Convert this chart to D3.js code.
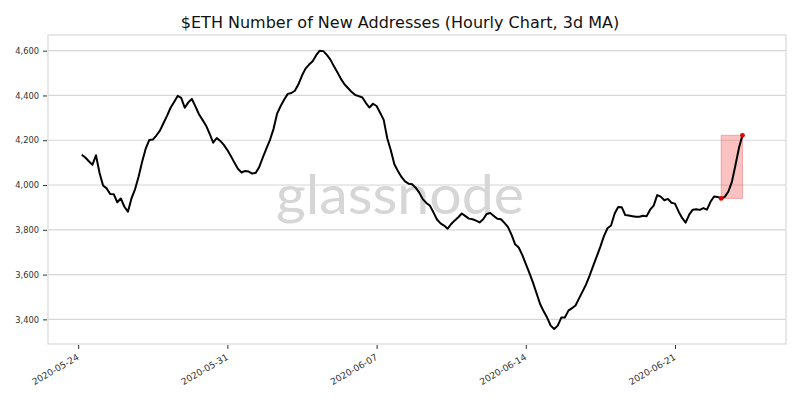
<!DOCTYPE html>
<html>
<head>
<meta charset="utf-8">
<script src="https://cdn.jsdelivr.net/npm/d3@7/dist/d3.min.js"></script>
<style>
  html, body { margin: 0; padding: 0; background: #fff; }
  svg { display: block; }
</style>
</head>
<body>
<svg id="chart" width="800" height="400"></svg>
<script>
// ---- data ----
const title = "$ETH Number of New Addresses (Hourly Chart, 3d MA)";
const seriesStart = "2020-05-24T04:00:00Z"; // first sample
const seriesStepHours = 4;                   // sampling interval of values below
const highlightFrom = "2020-06-23T04:00:00Z";
const values = [
  4135,4123,4106,4090,4133,4055,3998,3985,3960,3959,
  3923,3940,3903,3881,3940,3981,4037,4104,4162,4201,
  4203,4221,4243,4276,4309,4345,4371,4398,4389,4345,
  4369,4384,4351,4316,4291,4265,4229,4189,4210,4197,
  4179,4156,4129,4099,4072,4056,4063,4060,4051,4055,
  4082,4124,4164,4202,4251,4319,4353,4382,4407,4411,
  4421,4450,4489,4520,4538,4553,4580,4600,4598,4581,
  4560,4530,4502,4473,4449,4432,4415,4402,4397,4391,
  4366,4346,4363,4353,4323,4291,4209,4155,4093,4063,
  4036,4016,4006,4003,3988,3966,3937,3920,3908,3878,
  3846,3829,3819,3805,3826,3842,3856,3873,3861,3850,
  3847,3841,3833,3847,3871,3875,3862,3849,3847,3831,
  3812,3777,3735,3721,3688,3648,3608,3565,3518,3470,
  3437,3408,3372,3357,3372,3408,3408,3439,3450,3462,
  3494,3525,3557,3597,3640,3682,3725,3772,3807,3819,
  3872,3902,3901,3866,3864,3861,3858,3858,3863,3861,
  3890,3908,3955,3948,3932,3938,3921,3917,3882,3853,
  3832,3868,3890,3892,3889,3897,3890,3925,3949,3947,
  3940,3947,3970,4013,4087,4165,4222
];
const yTicks = [3400, 3600, 3800, 4000, 4200, 4400, 4600];
const xTickLabels = ["2020-05-24", "2020-05-31", "2020-06-07", "2020-06-14", "2020-06-21"];
const xDomain = ["2020-05-22T14:00:00Z", "2020-06-26T05:00:00Z"];
const yDomain = [3290, 4670];

// ---- build ----
const t0 = new Date(seriesStart).getTime();
const data = values.map((v, i) => ({ t: new Date(t0 + i * seriesStepHours * 3600e3), v }));
const hFrom = new Date(highlightFrom);
const hData = data.filter(d => d.t >= hFrom);

const svg = d3.select("#chart");
const plot = { left: 48, right: 786, top: 35, bottom: 344 };

const x = d3.scaleUtc().domain(xDomain.map(s => new Date(s))).range([plot.left, plot.right]);
const y = d3.scaleLinear().domain(yDomain).range([plot.bottom, plot.top]);

// grid
svg.append("g").selectAll("line").data(yTicks).join("line")
  .attr("x1", plot.left).attr("x2", plot.right)
  .attr("y1", d => y(d)).attr("y2", d => y(d))
  .attr("stroke", "#d6d6d6").attr("stroke-width", 1.2);

// watermark
svg.append("text")
  .attr("x", 400).attr("y", 214)
  .attr("text-anchor", "middle")
  .attr("font-family", "Lato, 'Noto Sans', sans-serif")
  .attr("font-size", 54)
  .attr("fill", "#d6d6d6")
  .attr("textLength", 248)
  .attr("lengthAdjust", "spacingAndGlyphs")
  .text("glassnode");

// frame
svg.append("rect")
  .attr("x", plot.left).attr("y", plot.top)
  .attr("width", plot.right - plot.left).attr("height", plot.bottom - plot.top)
  .attr("fill", "none").attr("stroke", "#dcdcdc").attr("stroke-width", 1.3);

// y axis
const yAxis = d3.axisLeft(y).tickValues(yTicks).tickFormat(d3.format(",")).tickSize(4).tickPadding(4);
const gy = svg.append("g").attr("transform", `translate(${plot.left - 1},0)`).call(yAxis);
gy.select(".domain").remove();
gy.selectAll(".tick line").attr("stroke", "#333").attr("stroke-width", 1);
gy.selectAll(".tick text").attr("font-family", "'DejaVu Sans', sans-serif").attr("font-size", 8.3).attr("fill", "#333");

// x axis
const xTicks = xTickLabels.map(s => new Date(s + "T00:00:00Z"));
const xAxis = d3.axisBottom(x).tickValues(xTicks).tickFormat(d3.utcFormat("%Y-%m-%d")).tickSize(4).tickPadding(2);
const gx = svg.append("g").attr("transform", `translate(0,${plot.bottom + 1})`).call(xAxis);
gx.select(".domain").remove();
gx.selectAll(".tick line").attr("stroke", "#333").attr("stroke-width", 1);
gx.selectAll(".tick text")
  .attr("font-family", "'DejaVu Sans', sans-serif").attr("font-size", 9).attr("fill", "#333")
  .attr("text-anchor", "end")
  .attr("dy", null)
  .attr("transform", "translate(1,14) rotate(-30)")
  .attr("y", 0).attr("x", 0);

// highlight box
const hx = d3.extent(hData, d => d.t), hy = d3.extent(hData, d => d.v);
svg.append("rect")
  .attr("x", x(hx[0])).attr("y", y(hy[1]))
  .attr("width", x(hx[1]) - x(hx[0])).attr("height", y(hy[0]) - y(hy[1]))
  .attr("fill", "rgba(245,80,80,0.35)").attr("stroke", "rgba(230,60,60,0.35)").attr("stroke-width", 1);

// line
const line = d3.line().x(d => x(d.t)).y(d => y(d.v)).curve(d3.curveLinear);
svg.append("path").datum(data)
  .attr("d", line).attr("fill", "none")
  .attr("stroke", "#000").attr("stroke-width", 2).attr("stroke-linejoin", "round");

// highlight end markers
svg.append("g").selectAll("circle").data([hData[0], hData[hData.length - 1]]).join("circle")
  .attr("cx", d => x(d.t)).attr("cy", d => y(d.v)).attr("r", 2.4).attr("fill", "#e00000");

// title
svg.append("text")
  .attr("x", 400).attr("y", 28)
  .attr("text-anchor", "middle")
  .attr("font-family", "'DejaVu Sans', sans-serif")
  .attr("font-size", 16).attr("fill", "#111")
  .text(title);
</script>
</body>
</html>
